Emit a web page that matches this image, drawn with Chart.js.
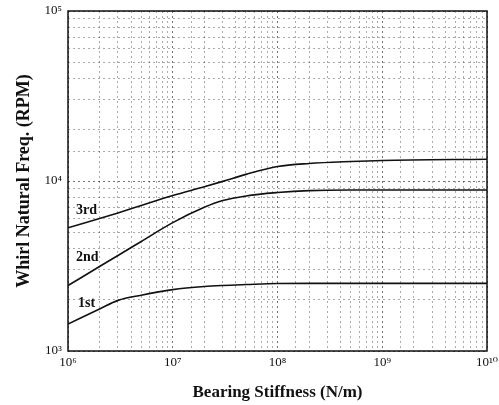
<!DOCTYPE html>
<html>
<head>
<meta charset="utf-8">
<script src="https://cdn.jsdelivr.net/npm/chart.js@4/dist/chart.umd.min.js"></script>
<style>
    html, body { margin: 0; padding: 0; background: #fff; }
    #wrap { width: 499px; height: 405px; }
</style>
</head>
<body>
<div id="wrap"><canvas id="whirlChart" width="499" height="405"></canvas></div>
<script>
// Bearing stiffness (N/m)
const stiffness = [1e6, 2e6, 3e6, 5e6, 1e7, 2e7, 3e7, 5e7, 1e8, 2e8, 5e8, 1e9, 1e10];

// Whirl natural frequencies (RPM)
const mode1 = [1440, 1765, 1985, 2130, 2295, 2395, 2430, 2460, 2495, 2500, 2500, 2500, 2500];
const mode2 = [2427, 3140, 3645, 4410, 5690, 7000, 7670, 8170, 8550, 8780, 8850, 8850, 8850];
const mode3 = [5310, 6010, 6490, 7180, 8220, 9250, 9950, 10940, 12160, 12680, 13030, 13210, 13430];

// in-plot curve labels [text, x, y]
const curveLabels = [
    ['3rd', 1.19e6, 6750],
    ['2nd', 1.19e6, 3573],
    ['1st', 1.245e6, 1915]
];

const supers = { '0': '⁰', '1': '¹', '2': '²', '3': '³', '4': '⁴', '5': '⁵', '6': '⁶', '7': '⁷', '8': '⁸', '9': '⁹' };
const SERIF = '"Liberation Serif", "DejaVu Serif", serif';

function isDecade(v) {
    const e = Math.log10(v);
    return Math.abs(e - Math.round(e)) < 1e-9;
}
function decadeLabel(v) {
    const e = String(Math.round(Math.log10(v)));
    return '10' + e.split('').map(c => supers[c]).join('');
}

const frame = {
    id: 'frame',
    afterDraw(chart) {
        const { ctx, chartArea: a, scales } = chart;
        ctx.save();
        ctx.strokeStyle = '#111';
        ctx.lineWidth = 1.5;
        ctx.strokeRect(a.left, a.top, a.right - a.left, a.bottom - a.top);
        ctx.fillStyle = '#111';
        ctx.font = 'bold 14px ' + SERIF;
        ctx.textAlign = 'left';
        ctx.textBaseline = 'middle';
        curveLabels.forEach(([t, x, y]) => {
            ctx.fillText(t, scales.x.getPixelForValue(x), scales.y.getPixelForValue(y));
        });
        ctx.restore();
    }
};

const lineStyle = {
    borderColor: '#111',
    borderWidth: 1.6,
    pointRadius: 0,
    fill: false,
    cubicInterpolationMode: 'monotone'
};

const gridColor = ctx => {
    const v = ctx.tick && ctx.tick.value;
    return v && isDecade(v) ? 'rgba(0,0,0,0.55)' : 'rgba(0,0,0,0.33)';
};

new Chart(document.getElementById('whirlChart').getContext('2d'), {
    type: 'line',
    data: {
        datasets: [
            { label: '1st', data: stiffness.map((x, i) => ({ x, y: mode1[i] })), ...lineStyle },
            { label: '2nd', data: stiffness.map((x, i) => ({ x, y: mode2[i] })), ...lineStyle },
            { label: '3rd', data: stiffness.map((x, i) => ({ x, y: mode3[i] })), ...lineStyle }
        ]
    },
    options: {
        responsive: false,
        animation: false,
        layout: { padding: { top: 11, right: 12, left: 0, bottom: 0 } },
        plugins: {
            legend: { display: false },
            tooltip: { enabled: false }
        },
        scales: {
            x: {
                type: 'logarithmic',
                min: 1e6,
                max: 1e10,
                afterFit: s => { s.height = 54; s.paddingLeft = 0; s.paddingRight = 0; },
                title: {
                    display: true,
                    text: 'Bearing Stiffness (N/m)',
                    color: '#111',
                    font: { family: SERIF, size: 17, weight: 'bold' },
                    padding: { top: 10, bottom: 2 }
                },
                ticks: {
                    autoSkip: false,
                    maxRotation: 0,
                    color: '#111',
                    font: { family: SERIF, size: 13 },
                    padding: 4,
                    callback: v => isDecade(v) ? decadeLabel(v) : ''
                },
                grid: { color: gridColor, lineWidth: 1, drawTicks: false },
                border: { display: false, dash: [2, 3] }
            },
            y: {
                type: 'logarithmic',
                min: 1e3,
                max: 1e5,
                afterFit: s => { s.width = 68; s.paddingTop = 0; s.paddingBottom = 0; },
                title: {
                    display: true,
                    text: 'Whirl Natural Freq. (RPM)',
                    color: '#111',
                    font: { family: SERIF, size: 18, weight: 'bold' },
                    padding: { top: 14, bottom: 0 }
                },
                ticks: {
                    autoSkip: false,
                    color: '#111',
                    font: { family: SERIF, size: 13 },
                    padding: 6,
                    callback: v => isDecade(v) ? decadeLabel(v) : ''
                },
                grid: { color: gridColor, lineWidth: 1, drawTicks: false },
                border: { display: false, dash: [2, 3] }
            }
        }
    },
    plugins: [frame]
});
</script>
</body>
</html>
